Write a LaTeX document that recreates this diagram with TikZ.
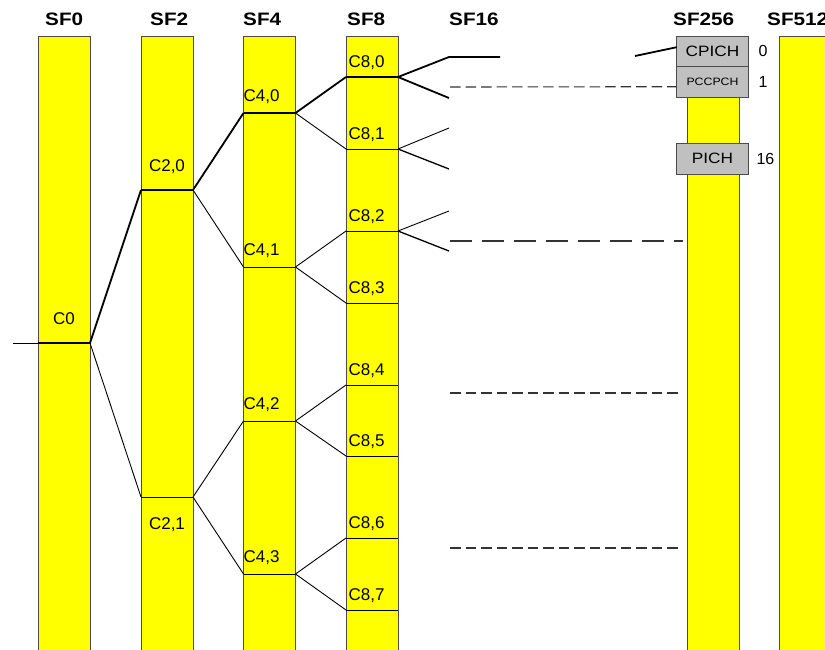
\documentclass[tikz,border=0pt]{standalone}
\usepackage{fontspec}
\setmainfont{Liberation Sans}
\newfontfamily\widefont[FakeStretch=1.15]{Liberation Sans}
\usepackage{tikz}
\usetikzlibrary{positioning}
\definecolor{codeyellow}{RGB}{255,255,0}
\definecolor{boxgray}{RGB}{192,192,192}
\tikzstyle{sfcol} = [rectangle, anchor=north, minimum width=52pt, minimum height=640pt, inner sep=0pt, outer sep=0pt, draw=black!70, line width=0.9pt, fill=codeyellow]
\tikzstyle{code} = [rectangle, minimum width=52pt, minimum height=0pt, inner sep=0pt, outer sep=0pt]
\tikzstyle{header} = [anchor=base west, inner sep=0pt, font=\widefont\bfseries\fontsize{18}{20}\selectfont]
\tikzstyle{lbl} = [inner sep=0pt, font=\fontsize{17}{19}\selectfont]
\tikzstyle{chan} = [rectangle, minimum width=71.6pt, minimum height=30.5pt, inner sep=0pt, outer sep=0pt, draw=black!70, line width=0.9pt, fill=boxgray, font=\widefont\fontsize{15}{17}\selectfont]
\tikzstyle{num} = [inner sep=0pt, font=\fontsize{16}{18}\selectfont]
\tikzstyle{branch} = [line width=0.9pt]
\tikzstyle{trunk} = [line width=1.8pt]
\tikzstyle{spare} = [line width=1.3pt]
\tikzstyle{idle} = [line width=1.1pt, draw=black!80, dash pattern=on 10.5pt off 5pt]
\tikzstyle{longdash} = [line width=1.1pt, draw=black!80, dash pattern=on 22pt off 10pt]

\begin{document}
\begin{tikzpicture}[x=1pt, y=-1pt]
\useasboundingbox (0,0) rectangle (825,649);
\clip (0,0) rectangle (825,649);
% columns
\node (col0) [sfcol] at (64,36) {};
\node (col2) [sfcol] at (167,36) {};
\node (col4) [sfcol] at (269.5,36) {};
\node (col8) [sfcol] at (372,36) {};
\node (col256) [sfcol] at (713,36) {};
\node (col512) [sfcol] at (805,36) {};
\node (h0) [header] at (45,25) {SF0};
\node (h2) [header] at (150,25) {SF2};
\node (h4) [header] at (243,25) {SF4};
\node (h8) [header] at (347,25) {SF8};
\node (h16) [header] at (449,25) {SF16};
\node (h256) [header] at (673,25) {SF256};
\node (h512) [header] at (767,25) {SF512};
% channels at SF256
\node (cpich) [chan] at (712.5,51.2) {CPICH};
\node (pccpch) [chan, below=0pt of cpich, font=\widefont\fontsize{10.7}{12}\selectfont] {PCCPCH};
\node (pich) [chan] at (712.5,158.8) {PICH};
\node (n0) [num, right=10pt of cpich] {0};
\node (n1) [num, right=10pt of pccpch] {1};
\node (n16) [num, right=8pt of pich] {16};
% codes
\node (c0) [code] at (64,343) {};
\node (c20) [code] at (167,190) {};
\node (c21) [code] at (167,497) {};
\node (c40) [code] at (269.5,113) {};
\node (c41) [code] at (269.5,267) {};
\node (c42) [code] at (269.5,421) {};
\node (c43) [code] at (269.5,574) {};
\node (c80) [code] at (372,77) {};
\node (c81) [code] at (372,149) {};
\node (c82) [code] at (372,231) {};
\node (c83) [code] at (372,303) {};
\node (c84) [code] at (372,385) {};
\node (c85) [code] at (372,456) {};
\node (c86) [code] at (372,538) {};
\node (c87) [code] at (372,610) {};
\node (l0) [lbl, anchor=base] at ([yshift=19pt]c0) {C0};
\node (l20) [lbl, anchor=base] at ([yshift=19pt]c20) {C2,0};
\node (l21) [lbl, anchor=base] at ([yshift=-32pt]c21) {C2,1};
\node (l40) [lbl, anchor=base west] at ([yshift=12pt]c40.west) {C4,0};
\node (l41) [lbl, anchor=base west] at ([yshift=12pt]c41.west) {C4,1};
\node (l42) [lbl, anchor=base west] at ([yshift=12pt]c42.west) {C4,2};
\node (l43) [lbl, anchor=base west] at ([yshift=12pt]c43.west) {C4,3};
\node (l80) [lbl, anchor=base west] at ([xshift=2.5pt,yshift=10pt]c80.west) {C8,0};
\node (l81) [lbl, anchor=base west] at ([xshift=2.5pt,yshift=10pt]c81.west) {C8,1};
\node (l82) [lbl, anchor=base west] at ([xshift=2.5pt,yshift=10pt]c82.west) {C8,2};
\node (l83) [lbl, anchor=base west] at ([xshift=2.5pt,yshift=10pt]c83.west) {C8,3};
\node (l84) [lbl, anchor=base west] at ([xshift=2.5pt,yshift=10pt]c84.west) {C8,4};
\node (l85) [lbl, anchor=base west] at ([xshift=2.5pt,yshift=10pt]c85.west) {C8,5};
\node (l86) [lbl, anchor=base west] at ([xshift=2.5pt,yshift=10pt]c86.west) {C8,6};
\node (l87) [lbl, anchor=base west] at ([xshift=2.5pt,yshift=10pt]c87.west) {C8,7};
% loose ends
\coordinate (in) at (13,343);
\coordinate (s0) at (449,57);
\coordinate (s0e) at (500,57);
\coordinate (s1) at (449,98);
\coordinate (s2) at (449,128);
\coordinate (s3) at (449,169);
\coordinate (s4) at (449,211);
\coordinate (s5) at (449,251);
\coordinate (p0) at (635,56);
\coordinate (d1) at (450,87);
\coordinate (d2) at (450,241);
\coordinate (d2e) at (683,241);
\coordinate (d3) at (450,393);
\coordinate (d3e) at (682,393);
\coordinate (d4) at (450,548);
\coordinate (d4e) at (682,548);

\draw [trunk] (c0.west) -- (c0.east);
\draw [trunk] (c20.west) -- (c20.east);
\draw [branch] (c21.west) -- (c21.east);
\draw [trunk] (c40.west) -- (c40.east);
\draw [branch] (c41.west) -- (c41.east);
\draw [branch] (c42.west) -- (c42.east);
\draw [branch] (c43.west) -- (c43.east);
\draw [trunk] (c80.west) -- (c80.east);
\draw [branch] (c81.west) -- (c81.east);
\draw [branch] (c82.west) -- (c82.east);
\draw [branch] (c83.west) -- (c83.east);
\draw [branch] (c84.west) -- (c84.east);
\draw [branch] (c85.west) -- (c85.east);
\draw [branch] (c86.west) -- (c86.east);
\draw [branch] (c87.west) -- (c87.east);

\draw [branch] (in) -- (c0.west);
\draw [trunk] (c0.east) -- (c20.west);
\draw [branch] (c0.east) -- (c21.west);
\draw [trunk] (c20.east) -- (c40.west);
\draw [branch] (c20.east) -- (c41.west);
\draw [branch] (c21.east) -- (c42.west);
\draw [branch] (c21.east) -- (c43.west);
\draw [trunk] (c40.east) -- (c80.west);
\draw [branch] (c40.east) -- (c81.west);
\draw [branch] (c41.east) -- (c82.west);
\draw [branch] (c41.east) -- (c83.west);
\draw [branch] (c42.east) -- (c84.west);
\draw [branch] (c42.east) -- (c85.west);
\draw [branch] (c43.east) -- (c86.west);
\draw [branch] (c43.east) -- (c87.west);
\draw [trunk] (c80.east) -- (s0) -- (s0e);
\draw [trunk] (c80.east) -- (s1);
\draw [branch] (c81.east) -- (s2);
\draw [spare] (c81.east) -- (s3);
\draw [branch] (c82.east) -- (s4);
\draw [spare] (c82.east) -- (s5);
\draw [trunk] (p0) -- ([yshift=4pt]cpich.west);
\draw [idle] (d1) -- ([yshift=-5pt]pccpch.west);
\draw [longdash] (d2) -- (d2e);
\draw [idle] (d3) -- (d3e);
\draw [idle] (d4) -- (d4e);
\end{tikzpicture}
\end{document}
